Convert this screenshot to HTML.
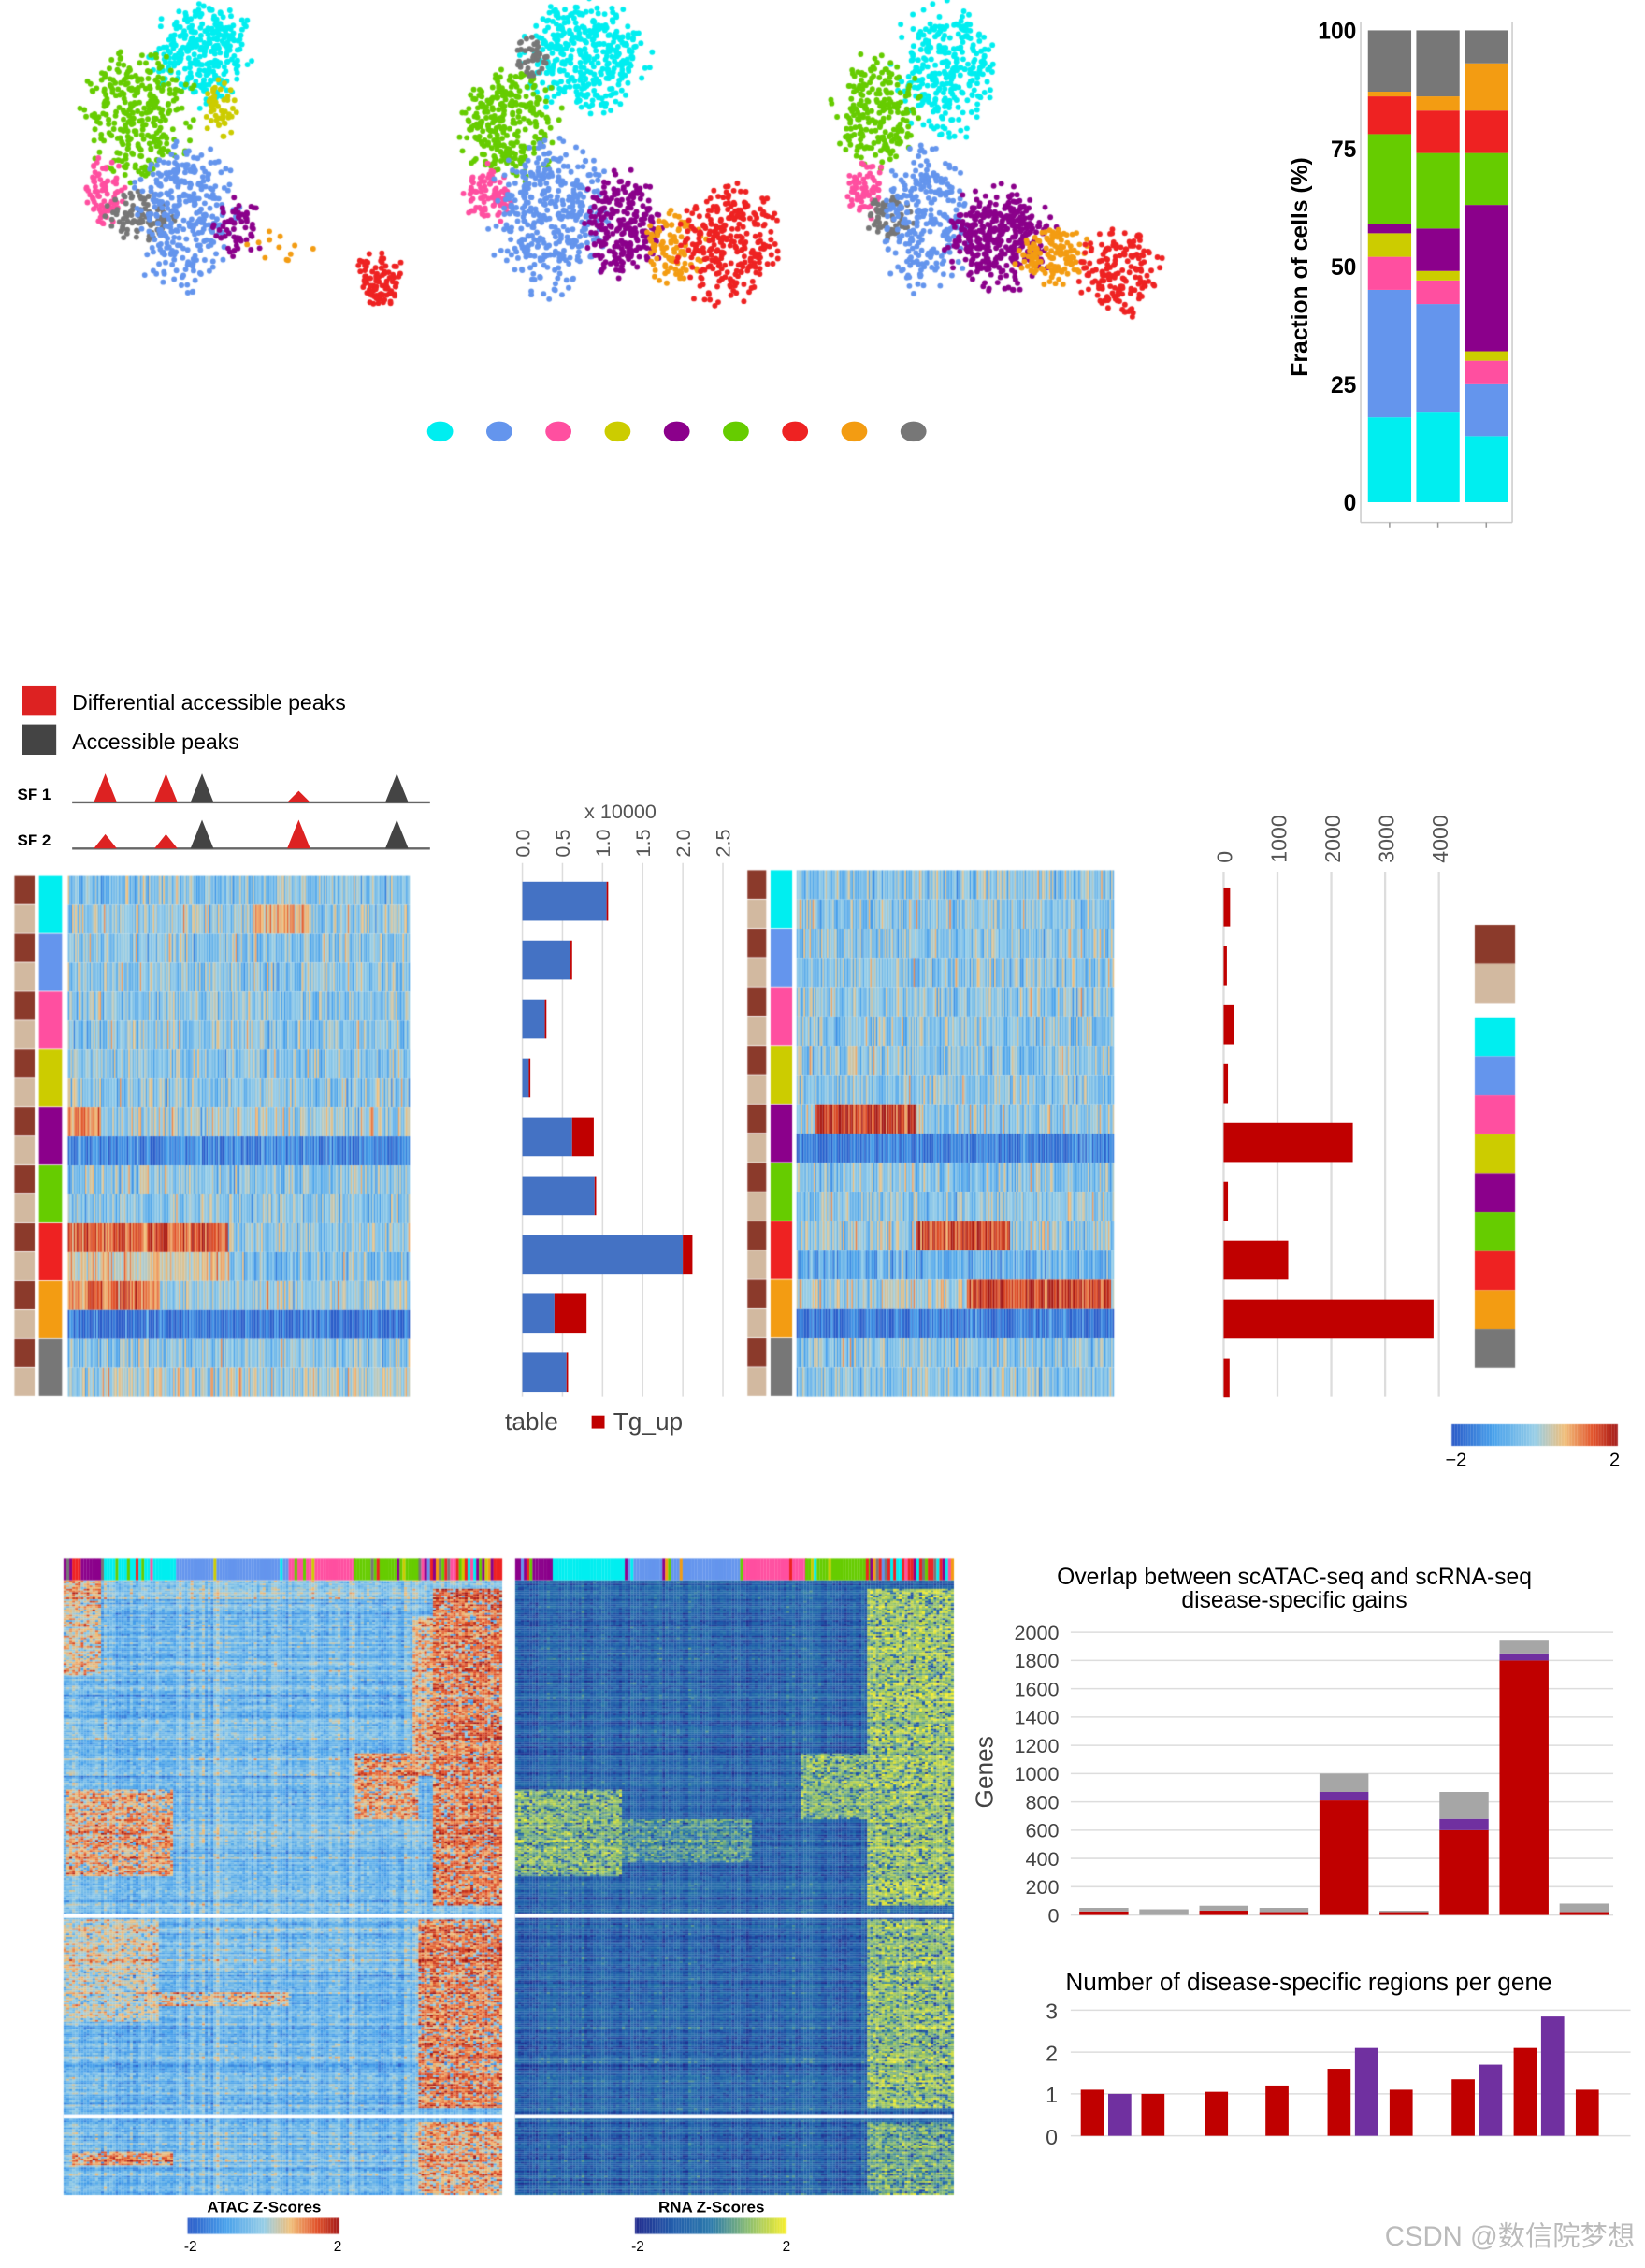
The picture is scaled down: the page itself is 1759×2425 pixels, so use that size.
<!DOCTYPE html>
<html><head><meta charset="utf-8"><style>
html,body{margin:0;padding:0;background:#fff;}
#wrap{position:relative;width:1759px;height:2425px;overflow:hidden;}
#cv{position:absolute;left:0;top:0;}
#sv{position:absolute;left:0;top:0;}
text{font-family:"Liberation Sans","Noto Sans CJK SC",sans-serif;}
</style></head><body>
<div id="wrap">
<canvas id="cv" width="1759" height="2425"></canvas>
<svg id="sv" width="1759" height="2425" viewBox="0 0 1140 1571.6">
<g id="g"></g>
</svg>
</div>
<script>
// ---- data ----
const clusterColors=["#00eef0","#6495ed","#ff4fa0","#cccc00","#8b008b","#66cc00","#ee2222","#f39c12","#777777"];
const fracBar1=[18,27,7,5,2,19,8,1,13];
const fracBar2=[19,23,5,2,9,16,9,3,14];
const fracBar3=[14,11,5,2,31,11,9,10,7];
const fracTicks=[0,25,50,75,100];
const peakStable=[1.05,0.6,0.28,0.08,0.62,0.9,2.0,0.4,0.55];
const peakUp=[0.02,0.02,0.02,0.02,0.27,0.02,0.12,0.4,0.02];
const peakTicks=["0.0","0.5","1.0","1.5","2.0","2.5"];
const geneCounts=[120,60,200,80,2400,80,1200,3900,110];
const geneTicks=[0,1000,2000,3000,4000];
const ovRed=[25,0,30,20,810,20,600,1800,20];
const ovPurple=[0,0,0,0,60,0,80,50,0];
const ovGray=[25,40,35,30,130,10,190,90,60];
const ovTicks=[0,200,400,600,800,1000,1200,1400,1600,1800,2000];
const rgCenters=[757,776,799,843,885,928,947,971,1014,1033,1057,1076,1100];
const rgValues=[1.1,1.0,1.0,1.05,1.2,1.6,2.1,1.1,1.35,1.7,2.1,2.85,1.1];
const rgKinds=["r","p","r","r","r","r","p","r","r","p","r","p","r"];
const rgTicks=[0,1,2,3];

const NS="http://www.w3.org/2000/svg";
const G=document.getElementById('g');
function el(t,a,txt){const e=document.createElementNS(NS,t);for(const k in a)e.setAttribute(k,a[k]);if(txt!==undefined)e.textContent=txt;G.appendChild(e);return e;}

// ---- canvas textures ----
const cv=document.getElementById('cv');const ctx=cv.getContext('2d');
ctx.scale(1759/1140,1759/1140);
let seed=12345;function rnd(){seed=(seed*1103515245+12345)&0x7fffffff;return seed/0x7fffffff;}
function gauss(){return (rnd()+rnd()+rnd()-1.5)/1.5;}
function disk(){let a,b;do{a=rnd()*2-1;b=rnd()*2-1;}while(a*a+b*b>1);return [a,b];}
// UMAP scatter
const umaps=[
 [[0,140,35,30,32,300],[5,95,80,35,38,300],[2,72,132,13,20,80],[8,97,150,20,15,100],[1,128,148,32,45,320],[3,152,75,10,18,50],[4,165,158,16,18,60],[6,262,192,15,18,90],[7,195,172,20,12,12]],
 [[0,405,40,38,35,380],[5,352,85,32,35,300],[2,338,135,16,18,90],[8,368,40,12,12,40],[1,382,150,36,48,380],[4,432,155,26,32,250],[7,468,172,18,24,100],[6,505,168,32,38,280]],
 [[0,655,48,32,40,300],[5,607,78,26,34,220],[2,600,132,13,17,70],[8,617,150,14,14,60],[1,642,152,26,44,260],[4,692,165,32,32,380],[7,730,177,22,18,130],[6,775,187,26,28,170]]];
umaps.forEach(u=>u.forEach(c=>{ctx.fillStyle=clusterColors[c[0]];for(let i=0;i<c[5];i++){const d=disk();const s=0.55+0.45*rnd();ctx.beginPath();ctx.arc(c[1]+d[0]*c[3]*s*1.3,c[2]+d[1]*c[4]*s*1.3,1.9,0,7);ctx.fill();}}));
// heatmap color helpers
function zcol(z){z=Math.max(-2,Math.min(2,z));const st=[[-2,[40,90,200]],[-1,[70,160,235]],[0,[150,205,230]],[0.7,[240,190,120]],[1.4,[225,80,40]],[2,[160,20,20]]];
 for(let i=0;i<st.length-1;i++){if(z<=st[i+1][0]){const t=(z-st[i][0])/(st[i+1][0]-st[i][0]);const a=st[i][1],b=st[i+1][1];return `rgb(${a.map((v,j)=>Math.round(v+(b[j]-v)*t)).join(',')})`;}}return 'rgb(160,20,20)';}
function rcol(z){z=Math.max(-2,Math.min(2,z));const st=[[-2,[30,40,140]],[-1,[30,90,170]],[0,[40,120,170]],[1,[140,190,110]],[2,[250,240,40]]];
 for(let i=0;i<st.length-1;i++){if(z<=st[i+1][0]){const t=(z-st[i][0])/(st[i+1][0]-st[i][0]);const a=st[i][1],b=st[i+1][1];return `rgb(${a.map((v,j)=>Math.round(v+(b[j]-v)*t)).join(',')})`;}}return 'rgb(250,240,40)';}
function topHeat(x0,x1,y0,y1,rows){const rh=(y1-y0)/18;
 for(let r=0;r<18;r++){const R=rows[r]||[ -0.2,null];
  for(let x=x0;x<x1;x+=1){let z=R[0]+gauss()*1.4;if(R[1]&&x>=R[1][0]&&x<R[1][1])z=R[1][2]+gauss()*1.1;ctx.fillStyle=zcol(z);ctx.fillRect(x,y0+r*rh,1.05,rh);}}}
topHeat(47,284,607,968,{8:[0,[47,70,1.1]],9:[-1.4,null],12:[-0.1,[47,158,1.4]],13:[-0.3,[47,160,0.5]],14:[-0.1,[47,110,1.2]],15:[-1.7,null],1:[-0.1,[175,215,0.8]],17:[0.1,null]});
topHeat(552,772,603,968,{8:[-0.1,[565,635,1.6]],9:[-1.5,null],12:[-0.1,[635,700,1.5]],13:[-0.7,null],14:[0.1,[670,770,1.6]],15:[-1.6,null]});
const stripColors=["#8b3a2b","#d2b9a0"];
[[10,24,607,968],[518,531,603,968]].forEach(s=>{const rh=(s[3]-s[2])/18;for(let r=0;r<18;r++){ctx.fillStyle=stripColors[r%2];ctx.fillRect(s[0],s[2]+r*rh,s[1]-s[0],rh-0.5);}});
[[27,43,607,968],[534,549,603,968]].forEach(s=>{const rh=(s[3]-s[2])/9;for(let r=0;r<9;r++){ctx.fillStyle=clusterColors[r];ctx.fillRect(s[0],s[2]+r*rh,s[1]-s[0],rh-0.5);}});
ctx.fillStyle="#8b3a2b";ctx.fillRect(1022,641,28,27);ctx.fillStyle="#d2b9a0";ctx.fillRect(1022,668,28,27);
for(let r=0;r<9;r++){ctx.fillStyle=clusterColors[r];ctx.fillRect(1022,705+r*27,28,27);}
for(let i=0;i<115;i++){ctx.fillStyle=zcol(-2+4*i/115);ctx.fillRect(1006+i,987,1.1,15);}
for(let i=0;i<105;i++){ctx.fillStyle=zcol(-2+4*i/105);ctx.fillRect(130+i,1537,1.1,11);}
for(let i=0;i<105;i++){ctx.fillStyle=rcol(-2+4*i/105);ctx.fillRect(440+i,1537,1.1,11);}
function bottomHeat(x0,x1,y0,y1,cf,blocks,base){
 const colz=[];for(let x=x0;x<x1;x++)colz.push(gauss()*0.7);
 for(let y=y0;y<y1;y+=1.2){const rz=gauss()*0.9;
  for(let x=x0;x<x1;x+=2){let z=base+rz+colz[x-x0]+gauss()*0.7;
   for(const b of blocks){if(x>=b[0]&&x<b[1]&&y>=b[2]&&y<b[3]&&rnd()<0.85)z=b[4]+gauss()*1.1+rz*0.7;}
   ctx.fillStyle=cf(z);ctx.fillRect(x,y,2.05,1.3);}}
 ctx.fillStyle="#fff";ctx.fillRect(x0,1326,x1-x0,3);ctx.fillRect(x0,1465,x1-x0,3);}
bottomHeat(44,348,1095,1520,zcol,[[300,348,1100,1320,1.2],[285,300,1120,1230,0.8],[46,120,1240,1300,0.9],[245,290,1215,1260,1.0],[44,70,1095,1160,0.6],[290,348,1330,1460,1.2],[290,348,1470,1520,0.9],[44,110,1330,1400,0.4],[100,200,1380,1390,0.8],[50,120,1490,1500,0.9]],-0.5);
bottomHeat(357,660,1095,1520,rcol,[[600,660,1100,1320,1.2],[357,430,1240,1300,1.0],[555,600,1215,1260,1.0],[600,660,1330,1460,1.1],[600,660,1470,1520,0.8],[430,520,1260,1290,0.5]],-0.8);
const topSeg=[[44,50,4],[50,56,6],[56,70,4],[70,122,0],[122,200,1],[200,245,2],[245,290,5],[290,348,6]];
[[0],[313]].forEach(o=>topSeg.forEach(s=>{const sx=s[0]+o[0];for(let x=sx;x<s[1]+o[0];x+=2){ctx.fillStyle=clusterColors[(s[2]+(rnd()<(s[2]==6?0.7:0.12)?Math.floor(rnd()*9):0))%9];ctx.fillRect(x,1080,2.1,15);}}));

// ---- SVG charts ----
clusterColors.forEach((c,i)=>{const d=el('ellipse',{cx:305+i*41,cy:299,rx:9,ry:7,fill:c});

});
const fy=v=>348-v*3.27;
el('line',{x1:943,y1:15,x2:943,y2:362,stroke:'#ccc'});el('line',{x1:943,y1:362,x2:1048,y2:362,stroke:'#ccc'});el('line',{x1:1048,y1:15,x2:1048,y2:362,stroke:'#ccc'});
fracTicks.forEach(t=>{const tx=el('text',{x:940,y:fy(t)+6,'text-anchor':'end','font-size':16,'font-weight':'bold'},t);

});
[fracBar1,fracBar2,fracBar3].forEach((b,bi)=>{let acc=0;b.forEach((v,i)=>{const r=el('rect',{x:948+bi*33.5,y:fy(acc+v),width:30,height:v*3.27,fill:clusterColors[i]});

acc+=v;});
el('line',{x1:963+bi*33.5,y1:362,x2:963+bi*33.5,y2:366,stroke:'#999'});});
el('text',{x:906,y:185,transform:'rotate(-90 906 185)','text-anchor':'middle','font-size':16,'font-weight':'bold'},'Fraction of cells (%)');
el('rect',{x:15,y:475,width:24,height:21,fill:'#dd2222'});el('rect',{x:15,y:502,width:24,height:21,fill:'#444'});
el('text',{x:50,y:492,'font-size':15},'Differential accessible peaks');
el('text',{x:50,y:519,'font-size':15},'Accessible peaks');
[[549,'SF 1',[[73,'r',1],[115,'r',1],[140,'k',1],[207,'r',0.4],[275,'k',1]]],[581,'SF 2',[[73,'r',0.5],[115,'r',0.5],[140,'k',1],[207,'r',1],[275,'k',1]]]].forEach(s=>{
 el('text',{x:12,y:s[0]+5,'font-size':11,'font-weight':'bold'},s[1]);
 el('line',{x1:50,y1:s[0]+7,x2:298,y2:s[0]+7,stroke:'#666','stroke-width':1.5});
 s[2].forEach(p=>{const h=20*p[2];el('polygon',{points:`${p[0]-8},${s[0]+7} ${p[0]},${s[0]+7-h} ${p[0]+8},${s[0]+7}`,fill:p[1]=='r'?'#dd2222':'#444'});});});
const px=v=>362+v*55.6;const rowY=i=>611+i*40.8;
peakTicks.forEach((t,i)=>{const x=px(i*0.5);el('line',{x1:x,y1:598,x2:x,y2:968,stroke:'#ddd'});
 const tx=el('text',{x:x+5,y:594,transform:`rotate(-90 ${x+5} 594)`,'font-size':14,fill:'#555'},t);
 
 });
el('text',{x:430,y:567,'text-anchor':'middle','font-size':14,fill:'#555'},'x 10000');
peakStable.forEach((v,i)=>{const r=el('rect',{x:px(0),y:rowY(i),width:v*55.6,height:27,fill:'#4472c4'});


const r2=el('rect',{x:px(v),y:rowY(i),width:peakUp[i]*55.6,height:27,fill:'#c00000'});

});
el('text',{x:350,y:991,'font-size':17,fill:'#444'},'table');el('rect',{x:410,y:981,width:9,height:9,fill:'#c00000'});el('text',{x:425,y:991,'font-size':17,fill:'#444'},'Tg_up');
const gx=v=>848+v*0.0373;
geneTicks.forEach(t=>{const x=gx(t);el('line',{x1:x,y1:604,x2:x,y2:968,stroke:'#ddd','stroke-width':1.5});
 const tx=el('text',{x:x+6,y:598,transform:`rotate(-90 ${x+6} 598)`,'font-size':15,fill:'#555'},t);
 
 });
geneCounts.forEach((v,i)=>{const r=el('rect',{x:gx(0),y:615+i*40.8,width:v*0.0373,height:27,fill:'#c00000'});

});
el('text',{x:1009,y:1016,'text-anchor':'middle','font-size':13},'−2');el('text',{x:1119,y:1016,'text-anchor':'middle','font-size':13},'2');
el('text',{x:183,y:1533,'text-anchor':'middle','font-size':11,'font-weight':'bold'},'ATAC Z-Scores');
el('text',{x:493,y:1533,'text-anchor':'middle','font-size':11,'font-weight':'bold'},'RNA Z-Scores');
[[132,'-2'],[234,'2'],[442,'-2'],[545,'2']].forEach(a=>el('text',{x:a[0],y:1560,'text-anchor':'middle','font-size':10},a[1]));
const oy=v=>1327-v*0.098;
el('text',{x:897,y:1098,'text-anchor':'middle','font-size':16},'Overlap between scATAC-seq and scRNA-seq');
el('text',{x:897,y:1114,'text-anchor':'middle','font-size':16},'disease-specific gains');
ovTicks.forEach(t=>{el('line',{x1:742,y1:oy(t),x2:1118,y2:oy(t),stroke:'#ddd'});
 const tx=el('text',{x:734,y:oy(t)+5,'text-anchor':'end','font-size':14,fill:'#444'},t);
 
 });
el('text',{x:688,y:1228,transform:'rotate(-90 688 1228)','text-anchor':'middle','font-size':17,fill:'#444'},'Genes');
ovRed.forEach((v,i)=>{const cx=765+i*41.6;let acc=0;
 [[v,'#c00000'],[ovPurple[i],'#7030a0'],[ovGray[i],'#a6a6a6']].forEach(s=>{if(s[0]>0){const r=el('rect',{x:cx-17,y:oy(acc+s[0]),width:34,height:s[0]*0.098,fill:s[1]});
 
 acc+=s[0];}});});
const ry=v=>1480-v*29;
el('text',{x:907,y:1379,'text-anchor':'middle','font-size':17},'Number of disease-specific regions per gene');
rgTicks.forEach(t=>{el('line',{x1:742,y1:ry(t),x2:1130,y2:ry(t),stroke:'#ddd'});
 const tx=el('text',{x:733,y:ry(t)+6,'text-anchor':'end','font-size':15,fill:'#444'},t);
 
 });
rgValues.forEach((v,i)=>{const r=el('rect',{x:rgCenters[i]-8,y:ry(v),width:16,height:v*29,fill:rgKinds[i]=='r'?'#c00000':'#7030a0'});

});
el('text',{x:1133,y:1556,'text-anchor':'end','font-size':19,fill:'#bbb'},'CSDN @数信院梦想');
</script>
</body></html>
